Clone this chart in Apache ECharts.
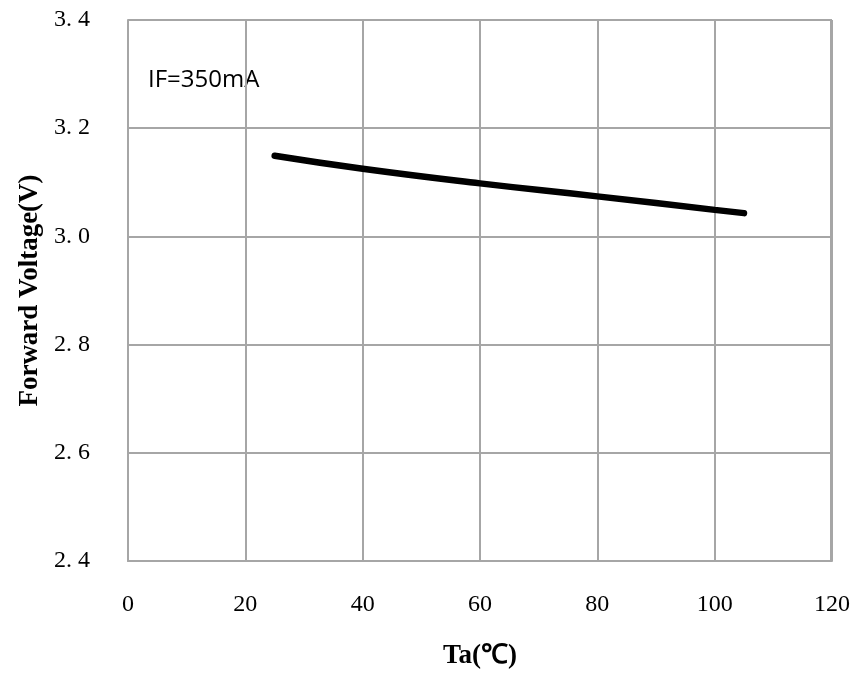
<!DOCTYPE html>
<html><head><meta charset="utf-8">
<script src="https://cdn.jsdelivr.net/npm/echarts@6/dist/echarts.min.js"></script>
<style>html,body{margin:0;padding:0;background:#fff}#c{width:855px;height:673px}</style>
</head><body><div id="c"></div>
<script>
const temps = [25, 40, 60, 80, 100, 105];
const voltages = [3.149, 3.125, 3.098, 3.074, 3.049, 3.043];
const xTicks = [0, 20, 40, 60, 80, 100, 120];
const yTicks = [2.4, 2.6, 2.8, 3.0, 3.2, 3.4];
const annotation = 'IF=350mA';

const chart = echarts.init(document.getElementById('c'));
const gridColor = '#a6a6a6';
chart.setOption({
  animation: false,
  grid: {left: 128, right: 23, top: 20, bottom: 112, show: false, outerBoundsMode: 'none', containLabel: false},
  xAxis: {
    type: 'value', min: xTicks[0], max: xTicks[xTicks.length-1], interval: 20,
    name: 'Ta(℃)', nameLocation: 'middle', nameGap: 82,
    nameTextStyle: {fontFamily: 'Liberation Serif', fontWeight: 'bold', fontSize: 27, color: '#000'},
    axisLine: {show: true, lineStyle: {color: gridColor, width: 2}},
    axisTick: {show: false},
    axisLabel: {margin: 32, fontFamily: 'Liberation Serif', fontSize: 24, color: '#000'},
    splitLine: {show: true, lineStyle: {color: gridColor, width: 2}}
  },
  yAxis: {
    type: 'value', min: yTicks[0], max: yTicks[yTicks.length-1], interval: 0.2,
    name: 'Forward Voltage(V)', nameLocation: 'middle', nameGap: 83,
    nameTextStyle: {fontFamily: 'Liberation Serif', fontWeight: 'bold', fontSize: 27, color: '#000'},
    axisLine: {show: true, lineStyle: {color: gridColor, width: 2}},
    axisTick: {show: false},
    axisLabel: {margin: 38, fontFamily: 'Liberation Serif', fontSize: 24, color: '#000',
      formatter: v => v.toFixed(1).replace('.', '. ')},
    splitLine: {show: true, lineStyle: {color: gridColor, width: 2}}
  },
  graphic: [{
    type: 'rect', shape: {x: 831, y: 20, width: 0, height: 541}, style: {stroke: gridColor, lineWidth: 2}, silent: true
  }, {
    type: 'text', left: 148, top: 68,
    style: {text: annotation, font: '24px "Open Sans"', fill: '#000'}
  }],
  series: [{
    type: 'line', smooth: true, showSymbol: false,
    data: temps.map((t, i) => [t, voltages[i]]),
    lineStyle: {color: '#000', width: 6.5, cap: 'round'}
  }]
});
</script></body></html>
